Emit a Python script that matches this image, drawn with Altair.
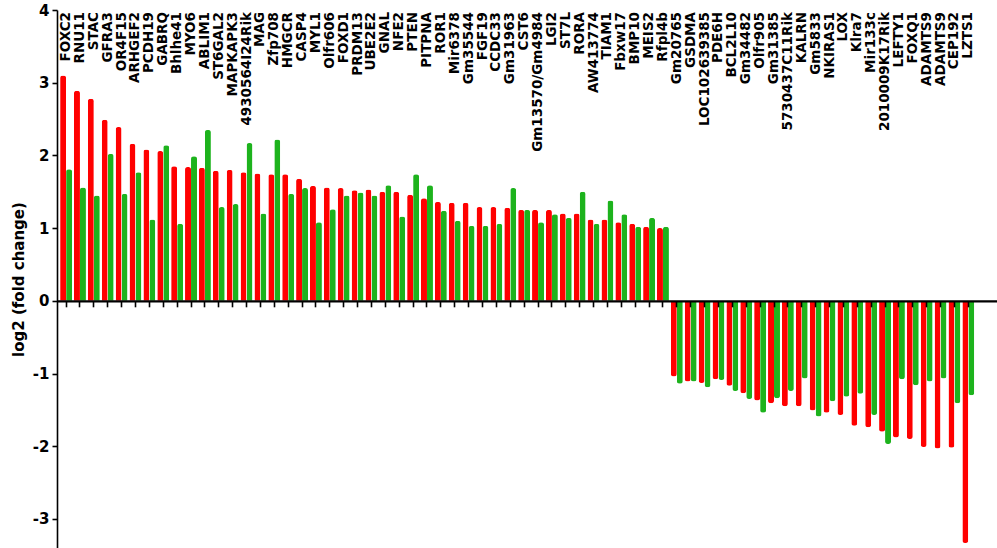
import altair as alt
import pandas as pd

# Gene names, in plotting order
genes = ["FOXC2", "RNU11", "STAC", "GFRA3", "OR4F15", "ARHGEF2", "PCDH19", "GABRQ",
         "Bhlhe41", "MYO6", "ABLIM1", "ST6GAL2", "MAPKAPK3", "4930564I24Rik", "MAG",
         "Zfp708", "HMGCR", "CASP4", "MYL1", "Olfr606", "FOXD1", "PRDM13", "UBE2E2",
         "GNAL", "NFE2", "PTEN", "PITPNA", "ROR1", "Mir6378", "Gm35544", "FGF19",
         "CCDC33", "Gm31963", "CST6", "Gm13570/Gm4984", "LGI2", "ST7L", "RORA",
         "AW413774", "TIAM1", "Fbxw17", "BMP10", "MEIS2", "Rfpl4b", "Gm20765", "GSDMA",
         "LOC102639385", "PDE6H", "BCL2L10", "Gm34482", "Olfr905", "Gm31385",
         "5730437C11Rik", "KALRN", "Gm5833", "NKIRAS1", "LOX", "Klra7", "Mir133c",
         "2010009K17Rik", "LEFTY1", "FOXQ1", "ADAMTS9", "ADAMTS9", "CEP192", "LZTS1"]

# log2 fold change, first (red) series
red_values = [3.10, 2.89, 2.78, 2.49, 2.39, 2.16, 2.08, 2.06, 1.85, 1.84, 1.83, 1.79,
              1.80, 1.77, 1.75, 1.74, 1.74, 1.68, 1.58, 1.56, 1.55, 1.52, 1.53, 1.50,
              1.50, 1.46, 1.41, 1.36, 1.35, 1.35, 1.29, 1.29, 1.28, 1.25, 1.25, 1.25,
              1.20, 1.20, 1.12, 1.12, 1.08, 1.06, 1.02, 1.00,
              -1.04, -1.11, -1.13, -1.08, -1.17, -1.27, -1.37, -1.41, -1.45, -1.45,
              -1.51, -1.54, -1.57, -1.72, -1.74, -1.80, -1.88, -1.90, -2.01, -2.03,
              -2.02, -3.33]

# log2 fold change, second (green) series
green_values = [1.81, 1.56, 1.45, 2.02, 1.47, 1.77, 1.12, 2.14, 1.06, 1.99, 2.35, 1.29,
                1.33, 2.17, 1.20, 2.22, 1.47, 1.55, 1.08, 1.26, 1.45, 1.49, 1.45, 1.59,
                1.16, 1.74, 1.59, 1.24, 1.10, 1.03, 1.03, 1.06, 1.55, 1.25, 1.08, 1.19,
                1.14, 1.50, 1.06, 1.38, 1.19, 1.02, 1.14, 1.02,
                -1.14, -1.11, -1.19, -1.09, -1.24, -1.35, -1.54, -1.34, -1.24, -1.07,
                -1.59, -1.38, -1.32, -1.28, -1.57, -1.97, -1.08, -1.16, -1.11, -1.07,
                -1.41, -1.30]

series_names = ["first", "second"]
series_colors = ["#ff0000", "#1db31d"]
y_ticks = [-3, -2, -1, 0, 1, 2, 3, 4]
y_domain = [-3.4, 4]

rows = []
for i, g in enumerate(genes):
    rows.append({"idx": i, "gene": g, "series": series_names[0], "value": red_values[i]})
    rows.append({"idx": i, "gene": g, "series": series_names[1], "value": green_values[i]})
bars_df = pd.DataFrame(rows)
genes_df = pd.DataFrame({"idx": list(range(len(genes))), "gene": genes})

FONT = "DejaVu Sans"
W, H = 940, 538

# the category axis sits on the zero line: shift it up from the bottom edge
zero_offset = -H * (0 - y_domain[0]) / (y_domain[1] - y_domain[0])

x_axis = alt.Axis(title=None, labels=False, orient="bottom", offset=zero_offset,
                  domainColor="black", domainWidth=2.2, tickColor="black",
                  tickWidth=1.6, tickSize=6, zindex=1, grid=False)
x_scale = alt.Scale(paddingInner=0, paddingOuter=0.86, align=0.09)
x_enc = alt.X("idx:O", axis=x_axis, scale=x_scale)

y_scale = alt.Scale(domain=y_domain, nice=False, zero=True)
y_axis = alt.Axis(values=y_ticks, grid=False, title="log2 (fold change)",
                  labelExpr="'' + datum.value",
                  domainColor="black", domainWidth=1.6, tickColor="black",
                  tickWidth=1.6, tickSize=5, labelPadding=3,
                  labelFont=FONT, labelFontWeight="bold", labelFontSize=15,
                  labelColor="black", titleFont=FONT, titleFontWeight="bold",
                  titleFontSize=15, titleColor="black", titlePadding=6)

base = alt.Chart(bars_df).encode(
    x=x_enc,
    xOffset=alt.XOffset("series:N", sort=series_names,
                        scale=alt.Scale(paddingInner=0, paddingOuter=0.16)),
    y=alt.Y("value:Q", scale=y_scale, axis=y_axis),
    color=alt.Color("series:N", sort=series_names,
                    scale=alt.Scale(domain=series_names, range=series_colors),
                    legend=None),
)

up_bars = base.transform_filter("datum.value >= 0").mark_bar(
    cornerRadiusTopLeft=2.5, cornerRadiusTopRight=2.5)
down_bars = base.transform_filter("datum.value < 0").mark_bar(
    cornerRadiusBottomLeft=2.5, cornerRadiusBottomRight=2.5)

labels = alt.Chart(genes_df).mark_text(
    angle=270, align="right", baseline="middle", font=FONT,
    fontWeight="bold", fontSize=13.5, color="black"
).encode(x=x_enc, y=alt.value(2), text="gene:N")

chart = alt.layer(up_bars, down_bars, labels).properties(
    width=W, height=H,
    autosize=alt.AutoSizeParams(type="none"),
    padding={"left": 57, "top": 10, "right": 0, "bottom": 0},
    background="white",
).configure_view(stroke=None)

chart.save("out.html", embed_options={"renderer": "svg", "actions": False})
